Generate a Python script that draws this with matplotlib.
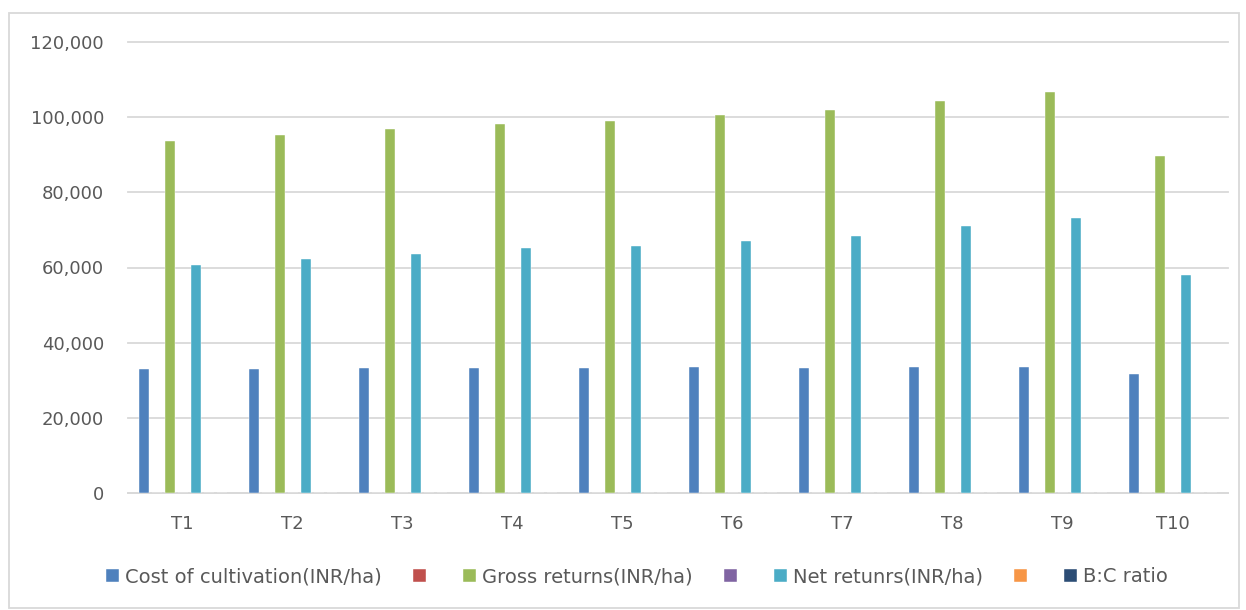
import matplotlib
matplotlib.use("Agg")
import matplotlib.pyplot as plt
import numpy as np
from matplotlib.patches import Rectangle
from matplotlib.ticker import FuncFormatter

categories = ["T1", "T2", "T3", "T4", "T5", "T6", "T7", "T8", "T9", "T10"]
cost = [33000, 33000, 33200, 33200, 33300, 33400, 33300, 33400, 33500, 31700]
gross = [93600, 95300, 96800, 98300, 99000, 100500, 101800, 104400, 106700, 89700]
net = [60600, 62300, 63500, 65100, 65700, 67100, 68500, 71000, 73200, 58000]
bc_ratio = [2.84, 2.89, 2.92, 2.96, 2.97, 3.01, 3.06, 3.13, 3.19, 2.83]
empty = [0] * 10

series = [
    ("Cost of cultivation(INR/ha)", cost, "#4F81BD"),
    ("", empty, "#C0504D"),
    ("Gross returns(INR/ha)", gross, "#9BBB59"),
    ("", empty, "#8064A2"),
    ("Net retunrs(INR/ha)", net, "#4BACC6"),
    ("", empty, "#F79646"),
    ("B:C ratio", bc_ratio, "#2C4D75"),
]

plt.rcParams['font.family'] = ['DejaVu Sans']
fig = plt.figure(figsize=(12.46, 6.10), dpi=100)
ax = fig.add_axes([127.5 / 1246, 117 / 610, 1100 / 1246, 451 / 610])

x = np.arange(len(categories))
slot = 13 / 110
bw = 10 / 110
n = len(series)
handles = []
for i, (label, vals, color) in enumerate(series):
    off = (i - (n - 1) / 2) * slot
    b = ax.bar(x + off, vals, width=bw, color=color, label=label,
               edgecolor="white", linewidth=0.3, zorder=3)
    handles.append(b)

ax.set_xlim(-0.5, len(categories) - 0.5)
ax.set_ylim(0, 120000)
ax.set_yticks(np.arange(0, 120001, 20000))
ax.yaxis.set_major_formatter(FuncFormatter(lambda v, p: f"{int(v):,}"))
ax.set_xticks(x)
ax.set_xticklabels(categories)
ax.grid(axis="y", color="#D9D9D9", linewidth=1.3, zorder=0)
for gl in ax.get_ygridlines():
    gl.set_clip_on(False)
ax.set_axisbelow(True)
for s in ["top", "right", "left"]:
    ax.spines[s].set_visible(False)
ax.spines["bottom"].set_color("#D9D9D9")
ax.spines["bottom"].set_linewidth(1.3)
ax.tick_params(axis="both", length=0, labelsize=13, labelcolor="#595959")
ax.tick_params(axis="x", pad=16)
ax.tick_params(axis="y", pad=17)

leg = fig.legend(handles=handles, labels=[s[0] for s in series], ncol=7,
                 loc="center", bbox_to_anchor=(637 / 1246, 33 / 610),
                 frameon=False, fontsize=14, handlelength=0.67, handleheight=0.67,
                 handletextpad=0.31, columnspacing=1.6, labelcolor="#595959")

fig.patches.append(Rectangle((9 / 1246, 2 / 610), 1230 / 1246, 595 / 610,
                             transform=fig.transFigure, fill=False,
                             edgecolor="#D9D9D9", linewidth=1.3))

fig.savefig("out.png", dpi=100, facecolor="white")
